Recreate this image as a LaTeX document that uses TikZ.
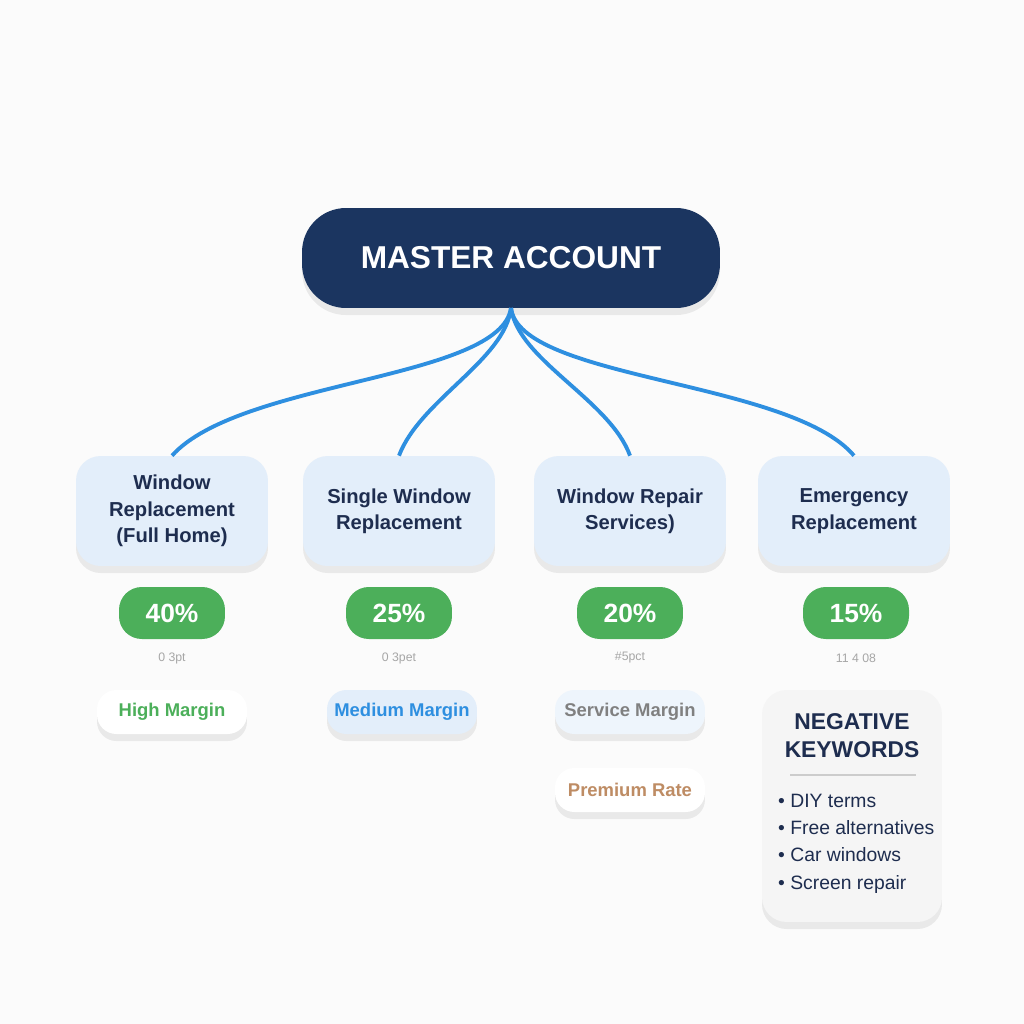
\documentclass[tikz,border=0pt]{standalone}
\usepackage{fontspec}
\setmainfont{Liberation Sans}
\definecolor{navy}{HTML}{1B3560}
\definecolor{boxbg}{HTML}{E3EEFA}
\definecolor{grn}{HTML}{4CAF5A}
\definecolor{link}{HTML}{2E8FE0}
\definecolor{txt}{HTML}{1E2D4F}
\begin{document}
\begin{tikzpicture}[x=0.02cm,y=-0.02cm,
 sh/.style={preaction={fill=black,opacity=0.07,transform canvas={yshift=-4pt}}},
 cat/.style={sh,rectangle,rounded corners=14pt,fill=boxbg,minimum width=3.84cm,minimum height=2.2cm,align=center,text=txt,font=\bfseries\fontsize{11.5}{15}\selectfont},
 pct/.style={rectangle,rounded corners=13pt,fill=grn,minimum width=2.12cm,minimum height=1.04cm,text=white,font=\bfseries\fontsize{15}{18}\selectfont},
 note/.style={text=gray!70,font=\fontsize{7}{8}\selectfont},
 mar/.style={sh,rectangle,rounded corners=11pt,minimum width=3cm,minimum height=0.88cm,font=\bfseries\fontsize{10.5}{13}\selectfont},
 lk/.style={link,line width=2.2pt}]
\useasboundingbox[fill=white!97!gray] (0,0) rectangle (1024,1024);
\node[sh,rectangle,rounded corners=25pt,fill=navy,minimum width=8.36cm,minimum height=2cm,text=white,font=\bfseries\fontsize{18}{22}\selectfont] (m) at (511,258) {MASTER ACCOUNT};
\coordinate (s) at (511,308);
\node[cat] (c1) at (172,511) {Window\\Replacement\\(Full Home)};
\node[cat] (c2) at (399,511) {Single Window\\Replacement};
\node[cat] (c3) at (630,511) {Window Repair\\Services)};
\node[cat] (c4) at (854,511) {Emergency\\Replacement};
\draw[lk] (s) .. controls (500,380) and (240,380) .. (c1.north);
\draw[lk] (s) .. controls (505,360) and (420,400) .. (c2.north);
\draw[lk] (s) .. controls (518,360) and (610,400) .. (c3.north);
\draw[lk] (s) .. controls (520,380) and (790,380) .. (c4.north);
\node[pct] (p1) at (172,613) {40\%};
\node[pct] (p2) at (399,613) {25\%};
\node[pct] (p3) at (630,613) {20\%};
\node[pct] (p4) at (856,613) {15\%};
\node[note] (n1) at (172,658) {0 3pt};
\node[note] (n2) at (399,658) {0 3pet};
\node[note] (n3) at (630,658) {\#5pct};
\node[note] (n4) at (856,658) {11 4 08};
\node[mar,fill=white,text=grn] (h) at (172,712) {High Margin};
\node[mar,fill=boxbg,text=link] (md) at (402,712) {Medium Margin};
\node[mar,fill=boxbg!60,text=gray] (sv) at (630,712) {Service Margin};
\node[mar,fill=white,text={rgb,255:red,190;green,140;blue,100}] (pr) at (630,790) {Premium Rate};
\node[sh,rectangle,rounded corners=14pt,fill=gray!8,minimum width=3.6cm,minimum height=4.64cm] (nk) at (852,806) {};
\node[text=txt,align=center,font=\bfseries\fontsize{13}{16}\selectfont] (nt) at (852,736) {NEGATIVE\\KEYWORDS};
\draw[gray!40,line width=1pt] (790,775) -- (916,775);
\node[text=txt,align=left,anchor=north west,font=\fontsize{11}{15.5}\selectfont] (nl) at (772,788) {• DIY terms\\• Free alternatives\\• Car windows\\• Screen repair};
\end{tikzpicture}
\end{document}
